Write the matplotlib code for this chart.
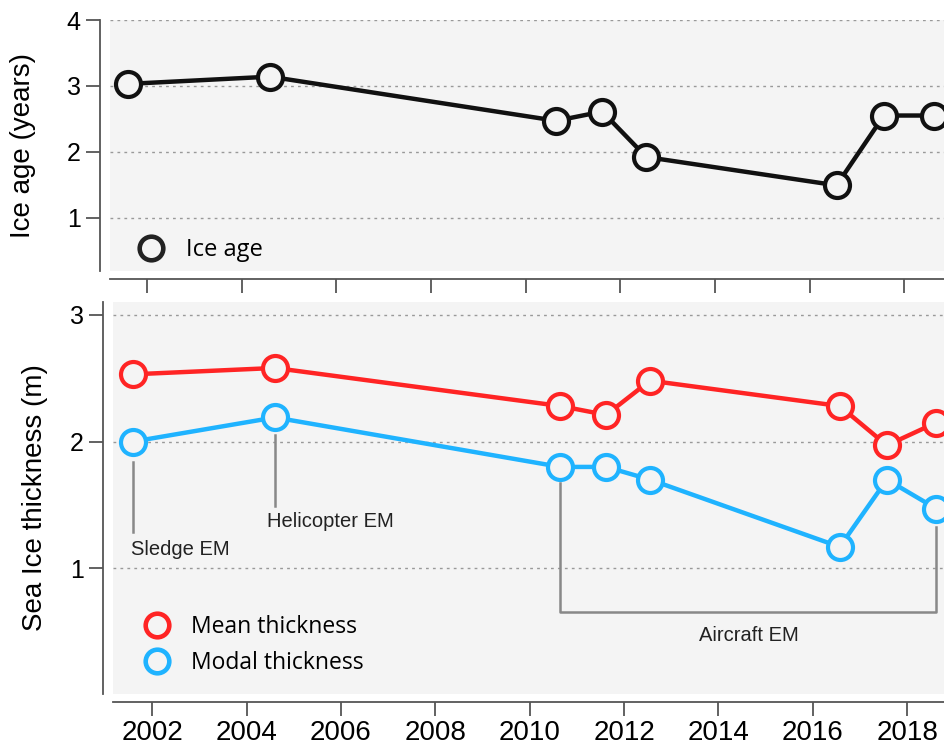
import numpy as np
import matplotlib
matplotlib.use("Agg")
import matplotlib.pyplot as plt
from matplotlib.lines import Line2D

# survey dates (decimal years)
dates = [2001.6, 2004.6, 2010.65, 2011.62, 2012.55, 2016.57, 2017.57, 2018.62]

# ice age (years)
ice_age = [3.03, 3.14, 2.47, 2.61, 1.92, 1.49, 2.55, 2.55]

# sea ice thickness (m)
mean_thick = [2.53, 2.58, 2.28, 2.21, 2.48, 2.28, 1.97, 2.15]
modal_thick = [2.00, 2.19, 1.80, 1.80, 1.70, 1.17, 1.70, 1.47]

xticks = list(range(2002, 2019, 2))

BG = "#f4f4f4"
RED = "#ff2424"
BLUE = "#1fb3ff"
SPINE = "#555555"

plt.rcParams["font.family"] = ["Liberation Sans", "DejaVu Sans"]

fig = plt.figure(figsize=(9.44, 7.45), dpi=100)
ax1 = fig.add_axes([110 / 944, 1 - 271 / 745, 1 - 110 / 944, 251 / 745])
ax2 = fig.add_axes([113 / 944, 1 - 694 / 745, 1 - 113 / 944, 392 / 745])

for ax in (ax1, ax2):
    ax.set_facecolor(BG)
    ax.spines["top"].set_visible(False)
    ax.spines["right"].set_visible(False)
    ax.spines["left"].set_position(("outward", 7))
    ax.spines["bottom"].set_position(("outward", 6))
    ax.spines["left"].set_color(SPINE)
    ax.spines["bottom"].set_color(SPINE)
    ax.spines["left"].set_linewidth(1.3)
    ax.spines["bottom"].set_linewidth(1.3)
    ax.tick_params(axis="both", length=10, width=1.3, color=SPINE)
    ax.tick_params(axis="y", labelsize=18, pad=4)
    ax.tick_params(axis="x", labelsize=20, pad=3)
    ax.grid(axis="y", linestyle=(0, (2, 3)), color="#999999", linewidth=1)
    ax.set_axisbelow(True)
    ax.set_xticks(xticks)

mk = dict(marker="o", markersize=18, markeredgewidth=3.0, markerfacecolor=BG,
          linewidth=3.2, clip_on=False)

# top panel: ice age
ax1.plot(dates, ice_age, color="#111111", markeredgecolor="#111111", **mk)
ax1.set_xlim(2001.22, 2018.84)
ax1.set_ylim(0.19, 4)
ax1.set_yticks([1, 2, 3, 4])
ax1.tick_params(axis="x", labelbottom=False)
ax1.set_ylabel("Ice age (years)", fontsize=20, labelpad=22)
h_age = Line2D([], [], linestyle="none", marker="o", markersize=17, markeredgewidth=3.3,
               markerfacecolor=BG, markeredgecolor="#222222")
ax1.legend([h_age], ["Ice age"], loc="lower left", bbox_to_anchor=(-0.005, -0.05),
           frameon=False, prop={"family": "Open Sans", "size": 17},
           handletextpad=0.5, borderpad=0.4)

# bottom panel: thickness
ax2.plot(dates, mean_thick, color=RED, markeredgecolor=RED, **mk)
ax2.plot(dates, modal_thick, color=BLUE, markeredgecolor=BLUE, **mk)
ax2.set_xlim(2001.17, 2018.78)
ax2.set_ylim(0.01, 3.1)
ax2.set_yticks([1, 2, 3])
ax2.set_ylabel("Sea Ice thickness (m)", fontsize=20, labelpad=16)
h_mean = Line2D([], [], linestyle="none", marker="o", markersize=17, markeredgewidth=3.3,
                markerfacecolor=BG, markeredgecolor=RED)
h_mod = Line2D([], [], linestyle="none", marker="o", markersize=17, markeredgewidth=3.3,
               markerfacecolor=BG, markeredgecolor=BLUE)
ax2.legend([h_mean, h_mod], ["Mean thickness", "Modal thickness"], loc="lower left",
           bbox_to_anchor=(0.0, -0.005), frameon=False,
           prop={"family": "Open Sans", "size": 16.5},
           handletextpad=0.5, labelspacing=0.55, borderpad=0.4)

# instrument annotations
ann = dict(color="#888888", linewidth=1.8)
tk = dict(fontsize=14.5, color="#222222")
ax2.plot([dates[0], dates[0]], [modal_thick[0] - 0.16, modal_thick[0] - 0.71], **ann)
ax2.text(dates[0] - 0.04, modal_thick[0] - 0.85, "Sledge EM", ha="left", va="center", **tk)
ax2.plot([dates[1], dates[1]], [modal_thick[1] - 0.14, modal_thick[1] - 0.70], **ann)
ax2.text(dates[1] - 0.16, modal_thick[1] - 0.82, "Helicopter EM", ha="left", va="center", **tk)
y_br = 0.66
ax2.plot([dates[2], dates[2], dates[-1], dates[-1]],
         [modal_thick[2] - 0.13, y_br, y_br, modal_thick[-1] - 0.14], **ann)
ax2.text((dates[2] + dates[-1]) / 2, 0.47, "Aircraft EM", ha="center", va="center", **tk)

fig.savefig("out.png", dpi=100)
